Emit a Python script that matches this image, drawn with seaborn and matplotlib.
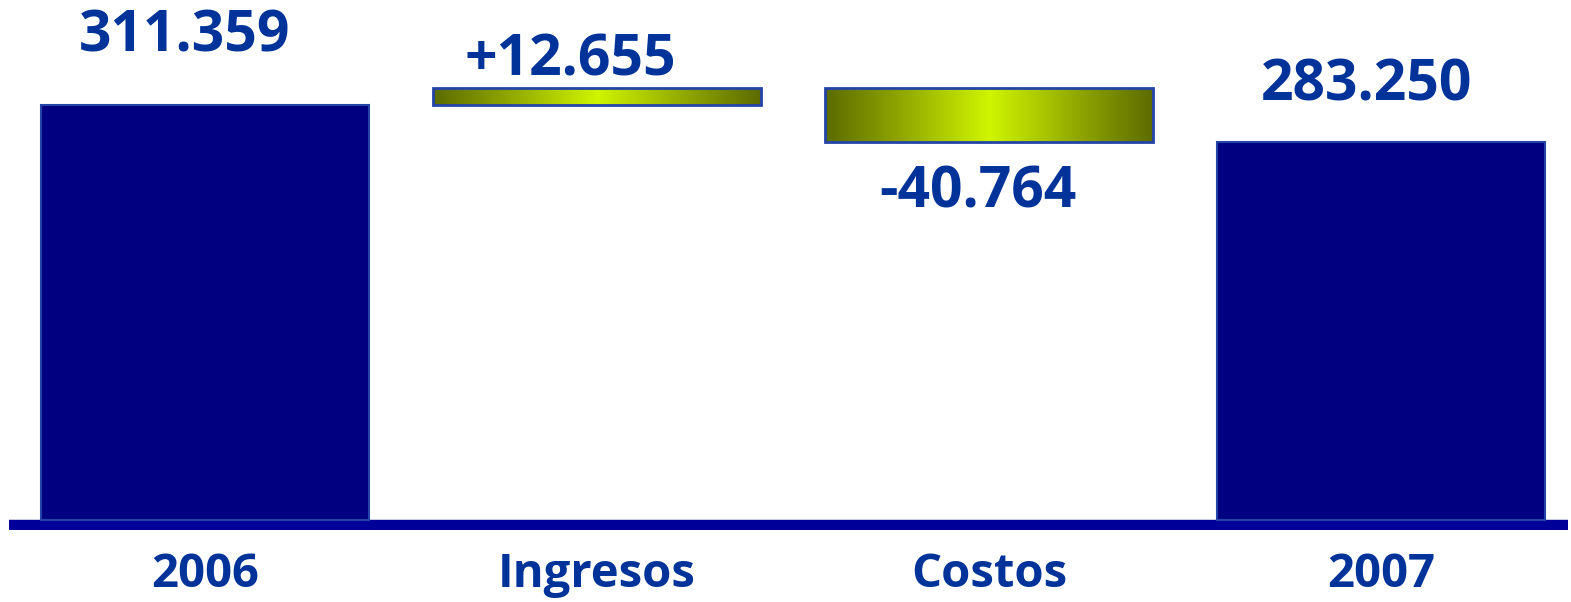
import numpy as np
import matplotlib
matplotlib.use("Agg")
import matplotlib.pyplot as plt
from matplotlib.colors import LinearSegmentedColormap
import seaborn as sns

# ---- data ----
categories = ["2006", "Ingresos", "Costos", "2007"]
changes = [311.359, 12.655, -40.764, 283.250]
value_labels = ["311.359", "+12.655", "-40.764", "283.250"]
kinds = ["total", "delta", "delta", "total"]

# waterfall geometry derived from the data
bottoms, heights, tops = [], [], []
running = 0.0
for k, v in zip(kinds, changes):
    if k == "total":
        b, h = 0.0, v
        running = v
    else:
        b = min(running, running + v)
        h = abs(v)
        running += v
    bottoms.append(b)
    heights.append(h)
    tops.append(b + h)

sns.set_theme(style="white")
plt.rcParams["font.family"] = ["Open Sans", "DejaVu Sans"]

W, H, DPI = 1571, 602, 100
fig = plt.figure(figsize=(W / DPI, H / DPI), dpi=DPI)
px = 311.359 / 415.0  # data units per pixel (approx)
ax = fig.add_axes([9 / W, (H - 530) / H, (1568 - 9) / W, 530 / H])

navy = "#000080"
edge = "#2444a8"
text_c = "#003399"

sns.barplot(x=categories, y=heights, color=navy, width=0.837, saturation=1,
            edgecolor=edge, linewidth=1.5, ax=ax, zorder=3)

grad = LinearSegmentedColormap.from_list(
    "g", [(0.0, "#5c6b00"), (0.22, "#8ea400"), (0.5, "#cff500"),
          (0.78, "#8ea400"), (1.0, "#5c6b00")])
gimg = np.linspace(0, 1, 256).reshape(1, -1)

patches = ax.patches
for i, p in enumerate(patches[:len(categories)]):
    p.set_y(bottoms[i])
    p.set_height(heights[i])
    if kinds[i] == "delta":
        p.set_facecolor("none")
        p.set_zorder(4)
        x0 = p.get_x()
        w = p.get_width()
        im = ax.imshow(gimg, cmap=grad, aspect="auto", zorder=3.5,
                       extent=[x0, x0 + w, bottoms[i], bottoms[i] + heights[i]])
        im.set_clip_path(p)
        p.set_linewidth(2)
ax.set_aspect("auto")
ax.set_xlim(-0.5, (1568 - 205) / 392)
ax.set_ylim(-10 * px, 520 * px)

# baseline
ax.axhline(-5 * px, color="#000099", linewidth=7.5, zorder=2)

# value labels (pixel offsets)
label_dx = [-20, -27, -11, -14]   # pixels
label_dy = [53, 13, -65, 42]      # pixels from bar top (neg: below bottom)
for i, lab in enumerate(value_labels):
    if label_dy[i] >= 0:
        y = tops[i] + label_dy[i] * px
    else:
        y = bottoms[i] + label_dy[i] * px
    ax.text(i + label_dx[i] / 392, y, lab, ha="center", va="baseline",
            fontsize=41, fontweight="bold", color=text_c, zorder=5)

for s in ax.spines.values():
    s.set_visible(False)
ax.set_yticks([])
ax.tick_params(axis="x", length=0, pad=15, labelsize=34, labelcolor=text_c)
for t in ax.get_xticklabels():
    t.set_fontweight("bold")
ax.set_xlabel("")
ax.set_ylabel("")
ax.patch.set_alpha(0)

fig.savefig("out.png", dpi=DPI)
